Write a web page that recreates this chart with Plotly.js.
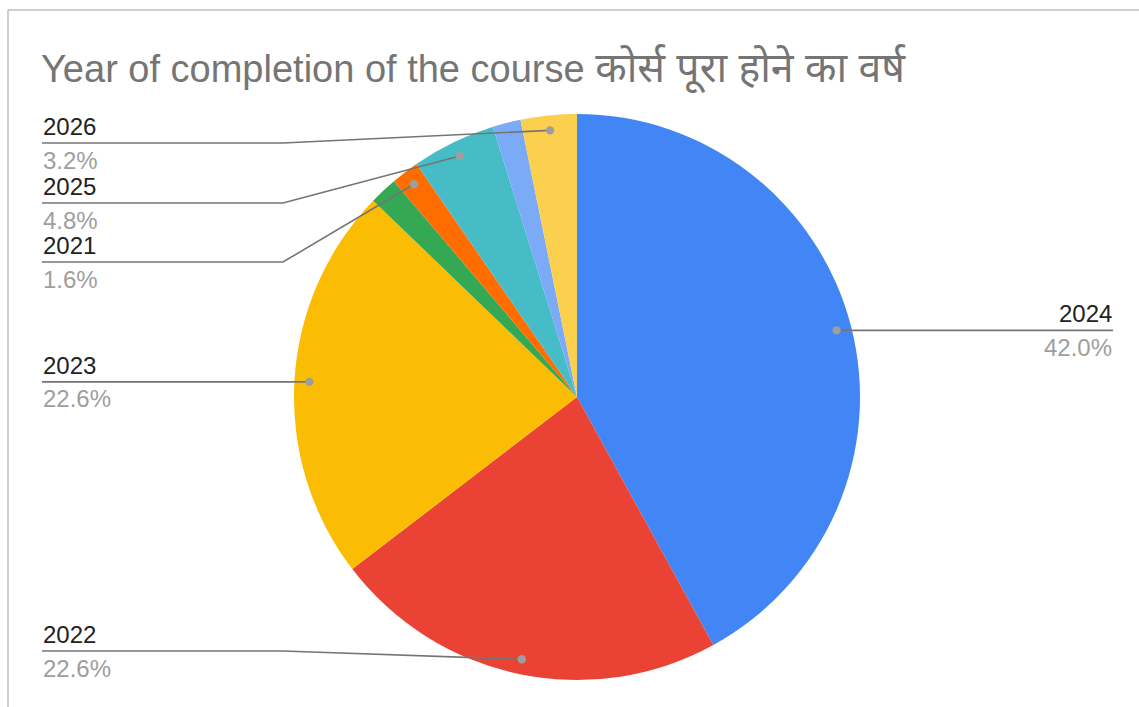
<!DOCTYPE html>
<html><head><meta charset="utf-8">
<script src="https://cdn.plot.ly/plotly-3.0.1.min.js"></script>
<style>html,body{margin:0;padding:0;background:#fff;}#chart{width:1139px;height:707px;}</style>
</head><body><div id="chart"></div>
<script>
// ---- data ----
const categories = ['2024', '2022', '2023', 'Other A', '2021', '2025', 'Other B', '2026'];
const percentages = [42.0, 22.6, 22.6, 1.6, 1.6, 4.8, 1.6, 3.2];
const sliceColors = ['#4285F4', '#EA4335', '#FBBC04', '#34A853', '#FF6D01', '#46BDC6', '#7BAAF7', '#FCD04F'];
const labelShown = [true, true, true, false, true, true, false, true];
const titleEnglish = 'Year of completion of the course';
const titleHindi = 'कोर्स पूरा होने का वर्ष';

// ---- layout helpers ----
const W = 1139, H = 707;
const cx = 577, cy = 397, R = 283;
const dotR = 0.947 * R;
const leftX = 42, elbowX = 283, rightX = 1113;
// label line y positions (null = same as the anchor dot)
const labelLineY = {'2024': null, '2022': 651, '2023': null, '2021': 262, '2025': 203, '2026': 143};
const px = x => x / W;
const py = y => 1 - y / H;

const total = percentages.reduce((a, b) => a + b, 0);
const shapes = [];
const annotations = [];
const FONT = 'Liberation Sans, Arial, Noto Sans, sans-serif';

// border
shapes.push({type: 'rect', xref: 'paper', yref: 'paper', x0: px(8), x1: 1.05, y0: py(10), y1: -0.05,
  line: {color: '#9e9e9e', width: 1}, fillcolor: 'rgba(0,0,0,0)', layer: 'below'});

let cum = 0;
percentages.forEach((v, i) => {
  const mid = (cum + v / 2) / total * 2 * Math.PI;
  cum += v;
  if (!labelShown[i]) return;
  const name = categories[i];
  const dx = cx + dotR * Math.sin(mid);
  const dy = cy - dotR * Math.cos(mid);
  const right = dx > cx;
  let ly = labelLineY[name];
  if (ly === null || ly === undefined) ly = dy;
  let path;
  if (right) {
    path = `M ${px(dx)} ${py(dy)} L ${px(rightX)} ${py(ly)}`;
  } else if (Math.abs(ly - dy) < 1) {
    path = `M ${px(leftX)} ${py(ly)} L ${px(dx)} ${py(dy)}`;
  } else {
    path = `M ${px(leftX)} ${py(ly)} L ${px(elbowX)} ${py(ly)} L ${px(dx)} ${py(dy)}`;
  }
  shapes.push({type: 'path', xref: 'paper', yref: 'paper', path: path,
    line: {color: '#757575', width: 1.6}, layer: 'above'});
  const r = 4.2;
  shapes.push({type: 'circle', xref: 'paper', yref: 'paper',
    x0: px(dx - r), x1: px(dx + r), y0: py(dy + r), y1: py(dy - r),
    fillcolor: '#9e9e9e', line: {width: 0}, layer: 'above'});
  const tx = right ? rightX : leftX;
  const anchor = right ? 'right' : 'left';
  annotations.push({xref: 'paper', yref: 'paper', x: px(tx), y: py(ly - 2), xanchor: anchor, yanchor: 'bottom',
    text: name, showarrow: false, borderpad: 0, font: {family: FONT, size: 24, color: '#222222'}});
  annotations.push({xref: 'paper', yref: 'paper', x: px(tx), y: py(ly + 2.5), xanchor: anchor, yanchor: 'top',
    text: v.toFixed(1) + '%', showarrow: false, borderpad: 0, font: {family: FONT, size: 24, color: '#9e9e9e'}});
});

const trace = {
  type: 'pie',
  labels: categories,
  values: percentages,
  sort: false,
  direction: 'clockwise',
  rotation: 0,
  textinfo: 'none',
  hoverinfo: 'label+percent',
  marker: {colors: sliceColors, line: {width: 0}},
  domain: {x: [px(cx - R), px(cx + R)], y: [py(cy + R), py(cy - R)]},
  showlegend: false
};

const layout = {
  width: W, height: H,
  margin: {l: 0, r: 0, t: 0, b: 0},
  paper_bgcolor: '#ffffff',
  title: {text: titleEnglish + ' <span style="font-size:41px">' + titleHindi + '</span>',
    x: px(41), xref: 'paper', xanchor: 'left', y: 1 - 69 / H, yref: 'container', yanchor: 'middle',
    font: {family: FONT, size: 38, color: '#757575'}},
  shapes: shapes,
  annotations: annotations
};

Plotly.newPlot('chart', [trace], layout, {displayModeBar: false, staticPlot: true});
</script>
</body></html>
